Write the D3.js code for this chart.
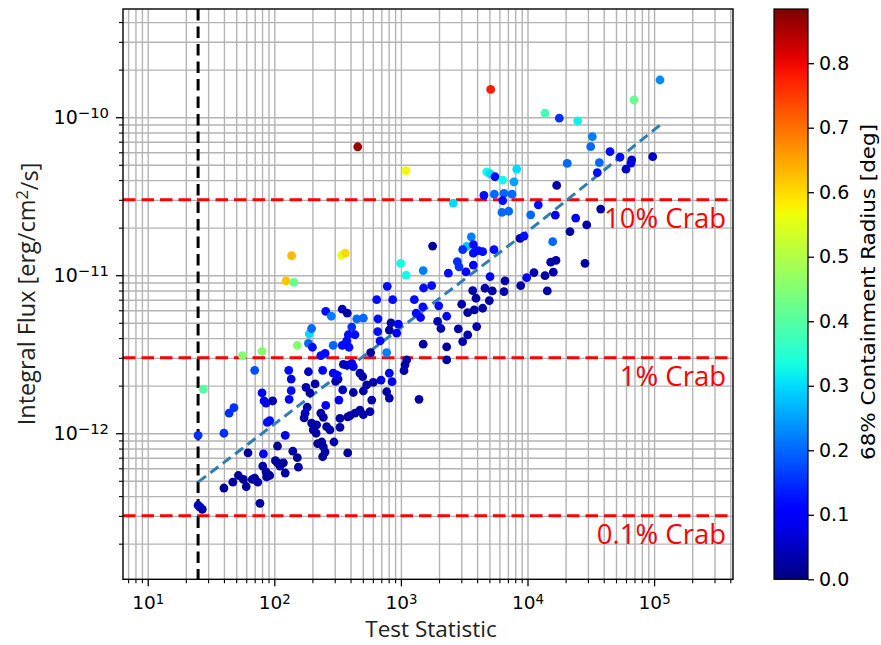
<!DOCTYPE html>
<html><head><meta charset="utf-8">
<script src="https://cdn.jsdelivr.net/npm/d3@7"></script>
<style>body{margin:0;background:#fff} svg{display:block}</style>
</head><body>
<svg id="c" width="881" height="645"></svg>
<script>
// ---- data ----
const tsValues = [
26,27,25,25,27.5,40,40,44,48,56,70,80,47,52,57,60,67,70,74,77,62,82,80,83,86,97,88,92,81,86,92,87,102,106,111,118,122,106,122,130,136,136,131,140,152,155,152,137,124,143,
189,197,186,200,186,210,178,241,233,252,292,344,255,282,344,377,191,182,175,172,197,203,214,220,237,244,252,241,216,255,233,244,259,275,296,330,305,319,347,292,311,373,324,380,380,330,
456,341,364,995,1100,1500,1780,2370,780,1510,1750,644,861,1276,1490,1990,1320,1430,2300,1950,2070,409,448,505,384,434,373,389,659,656,684,835,810,954,926,772,577,1500,2300,2300,1111,1078,1058,351,409,421,475,499,605,696,810,851,537,505,421,772,810,588,1390,396,434,475,505,570,
20600,4760,5060,5540,6370,8220,7820,17000,4530,5470,6520,7545,6370,2594,6290,7105,12170,10600,16580,24030,21660,8727,9385,15810,3597,3309,3077,3733,3733,4088,4427,5438,2790,2877,3733,3267,5060,6642,3690,3919,4616,5272,6520,4993,4427,3800,3370,3022,8837,9855,11250,13750,14330,15990,15250,16800,2841,3370,3077,3969,
111300,69380,13750,17830,24920,32500,31570,44840,53790,66540,65690,97480,59980,36910,35590,37860,29360,28460,5121,1097];
const fluxValues = [
3.4e-13,3.3e-13,3.5e-13,9.7e-13,1.9e-12,4.5e-13,1.0e-12,1.34e-12,1.45e-12,3.1e-12,2.5e-12,3.3e-12,4.9e-13,5.4e-13,5.1e-13,4.6e-13,5.1e-13,5.2e-13,4.9e-13,3.6e-13,7.5e-13,7.4e-13,1.8e-12,1.6e-12,1.55e-12,1.6e-12,1.17e-12,1.2e-12,6.2e-13,5.7e-13,5.4e-13,5.3e-13,6.7e-13,6.5e-13,6.2e-13,6.5e-13,5.6e-13,8.3e-13,9.7e-13,2.5e-12,2.2e-12,1.86e-12,1.64e-12,7.7e-13,7.0e-13,6.1e-13,3.6e-12,1.33e-11,9.2e-12,9.0e-12,
4.25e-12,4.6e-12,3.7e-12,3.5e-12,2.45e-12,2.05e-12,1.95e-12,2.5e-12,3.1e-12,3.2e-12,3.6e-12,3.6e-12,5.9e-12,5.5e-12,6.1e-12,5.75e-12,1.8e-12,1.46e-12,1.34e-12,1.25e-12,1.16e-12,1.05e-12,1.0e-12,8.6e-13,8.8e-13,8.2e-13,7.6e-13,7.1e-13,1.13e-12,1.5e-12,1.34e-12,1.26e-12,1.1e-12,1.05e-12,8.8e-13,1.09e-12,2.13e-12,2.2e-12,1.88e-12,2.4e-12,2.34e-12,2.7e-12,1.62e-12,1.27e-12,7.5e-13,1.24e-12,
6.5e-11,1.34e-11,1.38e-11,1.19e-11,1.0e-11,1.07e-11,1.53e-11,1.03e-11,8.5e-12,8.3e-12,8.6e-12,7.0e-12,7.0e-12,7.0e-12,6.3e-12,6.4e-12,5.75e-12,5.4e-12,5.5e-12,5.1e-12,4.6e-12,4.7e-12,5.3e-12,5.35e-12,4.2e-12,4.2e-12,3.84e-12,3.5e-12,5.3e-12,4.4e-12,3.84e-12,5.0e-12,4.5e-12,4.9e-12,4.3e-12,3.24e-12,3.24e-12,3.66e-12,3.52e-12,2.91e-12,2.91e-12,2.71e-12,2.49e-12,2.73e-12,2.77e-12,2.64e-12,2.4e-12,2.28e-12,2.1e-12,2.17e-12,2.4e-12,2.12e-12,2.02e-12,1.85e-12,1.81e-12,1.83e-12,1.67e-12,1.62e-12,1.64e-12,1.29e-12,1.34e-12,1.4e-12,1.31e-12,1.37e-12,
5.1e-11,4.5e-11,4.4e-11,4.2e-11,4.0e-11,4.7e-11,3.9e-11,3.7e-11,3.2e-11,3.26e-11,3.3e-11,3.26e-11,2.97e-11,2.86e-11,2.5e-11,2.54e-11,2.79e-11,2.41e-11,2.4e-11,2.3e-11,1.89e-11,1.71e-11,1.77e-11,1.63e-11,1.75e-11,1.52e-11,1.45e-11,1.56e-11,1.38e-11,1.43e-11,1.41e-11,1.45e-11,1.22e-11,1.13e-11,1.16e-11,1.05e-11,9.8e-12,9.2e-12,8.0e-12,7.15e-12,8.27e-12,7.95e-12,7.87e-12,6.91e-12,6.18e-12,6.03e-12,5.8e-12,6.55e-12,8.6e-12,9.66e-12,1.04e-11,9.94e-12,7.95e-12,1.045e-11,1.21e-11,1.24e-11,4.57e-12,4.19e-12,3.8e-12,4.73e-12,
1.72e-10,1.287e-10,1.06e-10,9.86e-11,9.48e-11,7.54e-11,6.51e-11,6.06e-11,5.58e-11,5.37e-11,5.12e-11,5.63e-11,4.69e-11,5.16e-11,4.46e-11,2.62e-11,2.08e-11,1.19e-11,1.5e-10,4.59e-11];
const radiusValues = [
0.02,0.03,0.05,0.15,0.40,0.02,0.15,0.15,0.15,0.45,0.18,0.45,0.02,0.02,0.02,0.02,0.02,0.03,0.03,0.02,0.02,0.10,0.10,0.10,0.08,0.03,0.12,0.12,0.03,0.03,0.02,0.02,0.02,0.02,0.03,0.02,0.03,0.02,0.08,0.12,0.08,0.12,0.10,0.03,0.02,0.03,0.45,0.63,0.62,0.42,
0.30,0.20,0.20,0.12,0.05,0.03,0.03,0.10,0.12,0.12,0.20,0.12,0.12,0.22,0.04,0.03,0.03,0.03,0.05,0.03,0.03,0.03,0.03,0.02,0.02,0.03,0.03,0.03,0.03,0.10,0.03,0.03,0.03,0.03,0.03,0.03,0.05,0.03,0.05,0.10,0.10,0.08,0.10,0.03,0.02,0.03,
0.86,0.55,0.60,0.33,0.33,0.22,0.02,0.12,0.12,0.12,0.12,0.12,0.12,0.12,0.12,0.12,0.12,0.10,0.10,0.04,0.04,0.15,0.20,0.20,0.12,0.12,0.12,0.12,0.12,0.12,0.12,0.03,0.03,0.10,0.10,0.22,0.03,0.03,0.03,0.03,0.03,0.03,0.03,0.04,0.08,0.08,0.03,0.03,0.03,0.08,0.10,0.08,0.03,0.03,0.03,0.03,0.03,0.03,0.03,0.03,0.03,0.03,0.03,0.03,
0.20,0.33,0.30,0.12,0.33,0.30,0.25,0.03,0.12,0.20,0.20,0.20,0.12,0.30,0.20,0.20,0.12,0.20,0.08,0.10,0.03,0.03,0.12,0.20,0.22,0.28,0.15,0.12,0.12,0.12,0.12,0.12,0.15,0.15,0.10,0.10,0.10,0.03,0.03,0.03,0.03,0.03,0.03,0.03,0.03,0.03,0.03,0.03,0.03,0.10,0.03,0.03,0.03,0.03,0.03,0.03,0.03,0.03,0.03,0.03,
0.23,0.42,0.38,0.15,0.32,0.22,0.20,0.12,0.12,0.05,0.08,0.05,0.05,0.20,0.12,0.03,0.03,0.03,0.78,0.57];

const crabLevels = [3e-11, 3e-12, 3e-13];
const crabLabels = ["10% Crab", "1% Crab", "0.1% Crab"];
const tsThreshold = 25;
const fitTS = [25, 12560, 111000];
const fitFlux = [4.9e-13, 2.18e-11, 8.9e-11];
const xMajorTicks = [10, 100, 1000, 10000, 100000];
const xTickExp = ["1", "2", "3", "4", "5"];
const yMajorTicks = [1e-10, 1e-11, 1e-12];
const yTickExp = ["\u221210", "\u221211", "\u221212"];
const cbarTicks = [0.0, 0.1, 0.2, 0.3, 0.4, 0.5, 0.6, 0.7, 0.8];
const cbarMax = 0.884;

// ---- layout ----
const svg = d3.select("#c");
const m = {l: 123, r: 733, t: 9, b: 579.3};
const x = d3.scaleLog().domain([6.38, 4.2e5]).range([m.l, m.r]);
const y = d3.scaleLog().domain([1.19e-13, 4.84e-10]).range([m.b, m.t]);

// jet colormap (matplotlib)
const JR = [[0,0],[0.35,0],[0.66,1],[0.89,1],[1,0.5]];
const JG = [[0,0],[0.125,0],[0.375,1],[0.64,1],[0.91,0],[1,0]];
const JB = [[0,0.5],[0.11,1],[0.34,1],[0.65,0],[1,0]];
function ch(p, t) {
  t = Math.max(0, Math.min(1, t));
  for (let i = 1; i < p.length; i++) {
    if (t <= p[i][0]) { const a = p[i-1], b = p[i]; return a[1] + (b[1]-a[1]) * (t-a[0])/(b[0]-a[0]); }
  }
  return p[p.length-1][1];
}
const norm = d3.scaleLinear().domain([0, cbarMax]).range([0, 1]);
function jet(v) { const t = norm(v); return d3.rgb(255*ch(JR,t), 255*ch(JG,t), 255*ch(JB,t)).toString(); }

// minor tick values
function minorTicks(dom, lo, hi) {
  const out = [];
  for (let e = lo; e <= hi; e++) for (let k = 2; k <= 9; k++) { const v = k * Math.pow(10, e); if (v >= dom[0] && v <= dom[1]) out.push(v); }
  return out;
}
const xMinor = minorTicks(x.domain(), 0, 5);
const yMinor = minorTicks(y.domain(), -13, -10);

// ---- grid ----
const grid = svg.append("g");
grid.append("g").attr("transform", `translate(0,${m.b})`)
  .call(d3.axisBottom(x).tickValues(xMajorTicks.concat(xMinor)).tickSize(-(m.b - m.t)).tickFormat(""))
  .call(g => g.select(".domain").remove())
  .call(g => g.selectAll("line").attr("stroke", "#b4b4b4").attr("stroke-width", 1.4));
grid.append("g").attr("transform", `translate(${m.l},0)`)
  .call(d3.axisLeft(y).tickValues(yMajorTicks.concat(yMinor)).tickSize(-(m.r - m.l)).tickFormat(""))
  .call(g => g.select(".domain").remove())
  .call(g => g.selectAll("line").attr("stroke", "#b4b4b4").attr("stroke-width", 1.4));

// ---- reference lines ----
svg.append("g").selectAll("line").data(crabLevels).join("line")
  .attr("x1", m.l).attr("x2", m.r).attr("y1", d => y(d)).attr("y2", d => y(d))
  .attr("stroke", "#ff0000").attr("stroke-width", 3).attr("stroke-dasharray", "12.5,6");
svg.append("line")
  .attr("x1", x(tsThreshold)).attr("x2", x(tsThreshold)).attr("y1", m.t).attr("y2", m.b)
  .attr("stroke", "#000").attr("stroke-width", 3).attr("stroke-dasharray", "11.5,6");

// fit line
const fit = fitTS.map((t, i) => [t, fitFlux[i]]);
svg.append("path").datum(fit)
  .attr("d", d3.line().x(d => x(d[0])).y(d => y(d[1])))
  .attr("fill", "none").attr("stroke", "#2f7db2").attr("stroke-width", 3).attr("stroke-dasharray", "10,5.5");

// ---- points ----
const pts = tsValues.map((t, i) => ({t, f: fluxValues[i], r: radiusValues[i]}));
svg.append("g").selectAll("circle").data(pts).join("circle")
  .attr("cx", d => x(d.t)).attr("cy", d => y(d.f)).attr("r", 4.4)
  .attr("fill", d => jet(d.r));

// ---- crab labels ----
svg.append("g").selectAll("text").data(crabLevels).join("text")
  .attr("x", 726).attr("y", d => y(d) + 28)
  .attr("text-anchor", "end").attr("font-family", "'Open Sans', sans-serif").attr("font-size", 27.5)
  .attr("fill", "#ff0000").text((d, i) => crabLabels[i]);

// ---- frame ----
svg.append("rect").attr("x", m.l).attr("y", m.t).attr("width", m.r - m.l).attr("height", m.b - m.t)
  .attr("fill", "none").attr("stroke", "#000").attr("stroke-width", 1.4);

// ---- axes ----
const tickFont = "'DejaVu Sans', sans-serif";
const gx = svg.append("g").attr("transform", `translate(0,${m.b})`)
  .call(d3.axisBottom(x).tickValues(xMajorTicks).tickSize(7).tickPadding(10).tickFormat(() => "10"));
gx.select(".domain").remove();
gx.selectAll("line").attr("stroke-width", 1.3);
gx.selectAll("text").attr("font-family", tickFont).attr("font-size", 18.5).attr("fill", "#000")
  .each(function(d, i) { d3.select(this).append("tspan").attr("dy", "-0.42em").attr("font-size", "0.72em").text(xTickExp[i]); });
const gxm = svg.append("g").attr("transform", `translate(0,${m.b})`)
  .call(d3.axisBottom(x).tickValues(xMinor).tickSize(4).tickFormat(""));
gxm.select(".domain").remove();
gxm.selectAll("line").attr("stroke-width", 1.1);

const gy = svg.append("g").attr("transform", `translate(${m.l},0)`)
  .call(d3.axisLeft(y).tickValues(yMajorTicks).tickSize(7).tickPadding(7).tickFormat(() => "10"));
gy.select(".domain").remove();
gy.selectAll("line").attr("stroke-width", 1.3);
gy.selectAll("text").attr("font-family", tickFont).attr("font-size", 19).attr("fill", "#000")
  .each(function(d, i) { d3.select(this).append("tspan").attr("dy", "-0.42em").attr("font-size", "0.78em").text(yTickExp[i]); });
const gym = svg.append("g").attr("transform", `translate(${m.l},0)`)
  .call(d3.axisLeft(y).tickValues(yMinor).tickSize(4).tickFormat(""));
gym.select(".domain").remove();
gym.selectAll("line").attr("stroke-width", 1.1);

// axis titles
const labFont = "'Open Sans', sans-serif";
svg.append("text").attr("x", 431).attr("y", 637).attr("text-anchor", "middle")
  .attr("font-family", labFont).attr("font-size", 22.5).attr("fill", "#222").text("Test Statistic");
const yl = svg.append("text").attr("transform", "translate(35,294) rotate(-90)").attr("text-anchor", "middle")
  .attr("font-family", labFont).attr("font-size", 23.5).attr("fill", "#222");
yl.append("tspan").text("Integral Flux [erg/cm");
yl.append("tspan").attr("dy", "-0.45em").attr("font-size", "0.7em").text("2");
yl.append("tspan").attr("dy", "0.45em").text("/s]");

// ---- colorbar ----
const cb = {x0: 774, x1: 808};
const c = d3.scaleLinear().domain([0, cbarMax]).range([m.b, m.t]);
const defs = svg.append("defs");
const grad = defs.append("linearGradient").attr("id", "jetg").attr("x1", 0).attr("y1", 1).attr("x2", 0).attr("y2", 0);
d3.range(0, 1.0001, 0.02).forEach(t => grad.append("stop").attr("offset", t).attr("stop-color", jet(t * cbarMax)));
svg.append("rect").attr("x", cb.x0).attr("y", m.t).attr("width", cb.x1 - cb.x0).attr("height", m.b - m.t)
  .attr("fill", "url(#jetg)").attr("stroke", "#000").attr("stroke-width", 1.2);
const gc = svg.append("g").attr("transform", `translate(${cb.x1},0)`)
  .call(d3.axisRight(c).tickValues(cbarTicks).tickSize(6).tickPadding(5).tickFormat(d3.format(".1f")));
gc.select(".domain").remove();
gc.selectAll("line").attr("stroke-width", 1.3);
gc.selectAll("text").attr("font-family", tickFont).attr("font-size", 19).attr("fill", "#000");
svg.append("text").attr("transform", "translate(875,292) rotate(-90)").attr("text-anchor", "middle")
  .attr("font-family", tickFont).attr("font-size", 19).attr("fill", "#000")
  .attr("textLength", 336).attr("lengthAdjust", "spacingAndGlyphs")
  .text("68% Containment Radius [deg]");
</script>
</body></html>
